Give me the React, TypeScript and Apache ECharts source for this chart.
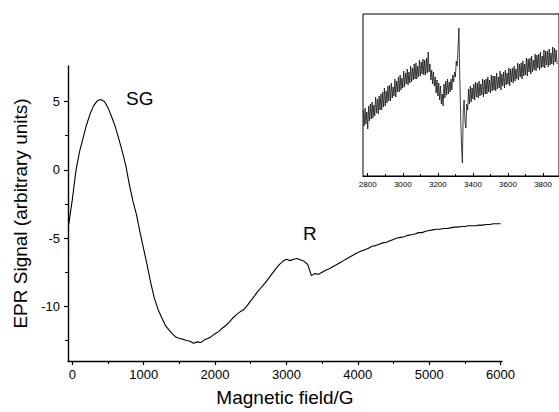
import React, { useEffect, useRef } from "react";
import * as echarts from "echarts";

// Main EPR spectrum: magnetic field (G) sampled every 50 G starting at -50 G
const MAIN_FIELD_START = -50;
const MAIN_FIELD_STEP = 50;
const mainSignal = [
  -4.0, -2.2, -0.1, 1.3, 2.3, 3.3, 4.1, 4.7, 5.05, 5.15,
  5.0, 4.55, 3.9, 3.2, 2.3, 1.35, 0.3, -1.1, -2.3, -3.3,
  -4.6, -5.8, -7.0, -8.3, -9.4, -10.2, -10.8, -11.35, -11.7, -12.0,
  -12.25, -12.35, -12.4, -12.5, -12.55, -12.7, -12.6, -12.65, -12.45, -12.35,
  -12.2, -12.0, -11.85, -11.6, -11.4, -11.15, -10.85, -10.6, -10.4, -10.25,
  -9.95, -9.6, -9.25, -8.9, -8.6, -8.3, -7.95, -7.6, -7.25, -6.95,
  -6.7, -6.55, -6.65, -6.55, -6.5, -6.6, -6.7, -6.95, -7.75, -7.6,
  -7.65, -7.5, -7.35, -7.25, -7.1, -6.95, -6.8, -6.65, -6.5, -6.35,
  -6.2, -6.05, -5.95, -5.85, -5.75, -5.6, -5.55, -5.45, -5.35, -5.3,
  -5.2, -5.1, -5.0, -4.95, -4.9, -4.8, -4.75, -4.7, -4.6, -4.6,
  -4.5, -4.45, -4.4, -4.35, -4.35, -4.3, -4.3, -4.25, -4.2, -4.2,
  -4.15, -4.15, -4.1, -4.1, -4.1, -4.05, -4.05, -4.0, -4.0, -3.95,
  -3.95, -3.95,
];

// Inset: zoom of the R region, sampled every 5 G from 2775 G (arbitrary units)
const INSET_FIELD_START = 2775;
const INSET_FIELD_STEP = 5;
const insetSignal = [
  66, 50, 68, 52, 64, 47, 70, 55, 72, 57,
  74, 58, 71, 60, 79, 63, 77, 62, 80, 66,
  82, 66, 84, 69, 88, 70, 85, 73, 90, 75,
  91, 75, 93, 78, 89, 80, 97, 79, 95, 84,
  99, 84, 101, 86, 98, 88, 105, 89, 103, 92,
  107, 91, 104, 93, 110, 94, 108, 96, 112, 97,
  113, 97, 110, 99, 116, 100, 114, 102, 117, 101,
  116, 101, 118, 103, 124, 104, 112, 96, 106, 92,
  104, 90, 99, 83, 96, 80, 93, 76, 90, 72,
  82, 70, 92, 78, 95, 81, 97, 82, 94, 84,
  97, 86, 101, 94, 104, 99, 115, 110, 128, 148,
  100, 60, 30, 13, 66, 76, 54, 48, 72, 66,
  87, 72, 90, 74, 88, 77, 92, 76, 94, 79,
  93, 78, 95, 80, 92, 81, 97, 79, 96, 82,
  97, 82, 99, 84, 96, 83, 101, 85, 100, 86,
  100, 85, 103, 87, 99, 88, 105, 86, 102, 90,
  104, 88, 106, 91, 103, 92, 108, 90, 107, 94,
  108, 93, 110, 95, 107, 97, 113, 96, 112, 99,
  113, 97, 115, 100, 112, 101, 118, 100, 117, 104,
  118, 102, 120, 104, 116, 106, 122, 105, 121, 108,
  122, 106, 124, 108, 120, 109, 126, 108, 125, 111,
  125, 109, 127, 111, 123, 112, 129, 111, 128, 114,
  126, 112,
];

const xMajorTicks = [0, 1000, 2000, 3000, 4000, 5000, 6000];
const xMinorTicks = [500, 1500, 2500, 3500, 4500, 5500];
const yMajorTicks = [-10, -5, 0, 5];
const yMinorTicks = [-12.5, -7.5, -2.5, 2.5];
const insetLabelTicks = [2800, 3000, 3200, 3400, 3600, 3800];
const insetMinorTicks = [2900, 3100, 3300, 3500, 3700];

const FONT = "Liberation Sans, Arial, Helvetica, sans-serif";
const plain = (v: number) => String(v);

export default function App() {
  const ref = useRef<HTMLDivElement>(null);

  useEffect(() => {
    if (!ref.current) return;
    const chart = echarts.init(ref.current, null, { renderer: "svg" });

    const mainData = mainSignal.map((v, i) => [MAIN_FIELD_START + i * MAIN_FIELD_STEP, v]);
    const insetData = insetSignal.map((v, i) => [INSET_FIELD_START + i * INSET_FIELD_STEP, v]);

    const axisLine = { show: true, onZero: false, lineStyle: { color: "#000", width: 1.4 } };

    const option: any = {
      animation: false,
      backgroundColor: "#fff",
      grid: [
        { left: 68, right: 57, top: 66, bottom: 51, show: false },
        {
          left: 363, right: 0, top: 14, bottom: 236, show: true,
          borderColor: "#000", borderWidth: 1, backgroundColor: "transparent",
        },
      ],
      xAxis: [
        {
          gridIndex: 0, type: "value", position: "bottom", min: -60, max: 6020,
          axisLine,
          axisTick: { show: true, customValues: xMajorTicks, length: 4, inside: false, lineStyle: { color: "#000", width: 1.2 } },
          axisLabel: { customValues: xMajorTicks, formatter: plain, color: "#000", fontSize: 13, fontFamily: FONT, margin: 7 },
          splitLine: { show: false },
          name: "Magnetic field/G", nameLocation: "middle", nameGap: 27,
          nameTextStyle: { color: "#000", fontSize: 19, fontFamily: FONT },
        },
        {
          gridIndex: 0, type: "value", position: "bottom", min: -60, max: 6020,
          axisLine: { show: false, onZero: false },
          axisTick: { show: true, customValues: xMinorTicks, length: 3, lineStyle: { color: "#000", width: 1 } },
          axisLabel: { show: false },
          splitLine: { show: false },
        },
        {
          gridIndex: 1, type: "value", position: "bottom", min: 2773, max: 3891,
          axisLine: { show: true, onZero: false, lineStyle: { color: "#000", width: 1 } },
          axisTick: { show: true, customValues: insetLabelTicks, length: 3, inside: true, lineStyle: { color: "#000", width: 1 } },
          axisLabel: { customValues: insetLabelTicks, formatter: plain, color: "#000", fontSize: 8, fontFamily: FONT, margin: 4 },
          splitLine: { show: false },
        },
        {
          gridIndex: 1, type: "value", position: "bottom", min: 2773, max: 3891,
          axisLine: { show: false, onZero: false },
          axisTick: { show: true, customValues: insetMinorTicks, length: 2, inside: true, lineStyle: { color: "#000", width: 1 } },
          axisLabel: { show: false },
          splitLine: { show: false },
        },
      ],
      yAxis: [
        {
          gridIndex: 0, type: "value", position: "left", min: -14, max: 7.6,
          axisLine,
          axisTick: { show: true, customValues: yMajorTicks, length: 4, lineStyle: { color: "#000", width: 1.2 } },
          axisLabel: { customValues: yMajorTicks, formatter: plain, color: "#000", fontSize: 13, fontFamily: FONT, margin: 8 },
          splitLine: { show: false },
          name: "EPR Signal (arbitrary units)", nameLocation: "middle", nameGap: 31,
          nameTextStyle: { color: "#000", fontSize: 19, fontFamily: FONT },
        },
        {
          gridIndex: 0, type: "value", position: "left", min: -14, max: 7.6,
          axisLine: { show: false, onZero: false },
          axisTick: { show: true, customValues: yMinorTicks, length: 3, lineStyle: { color: "#000", width: 1 } },
          axisLabel: { show: false },
          splitLine: { show: false },
        },
        {
          gridIndex: 1, type: "value", position: "left", min: 0, max: 162,
          axisLine: { show: false, onZero: false },
          axisTick: { show: false },
          axisLabel: { show: false },
          splitLine: { show: false },
        },
      ],
      series: [
        {
          type: "line", xAxisIndex: 0, yAxisIndex: 0, data: mainData,
          showSymbol: false, symbol: "none", silent: true,
          lineStyle: { color: "#000", width: 1.1 },
        },
        {
          type: "line", xAxisIndex: 2, yAxisIndex: 2, data: insetData,
          showSymbol: false, symbol: "none", silent: true, clip: true,
          lineStyle: { color: "#111", width: 0.8 },
        },
      ],
      graphic: [
        { type: "text", left: 126, top: 89, style: { text: "SG", fontSize: 19, fontFamily: FONT, fill: "#000" } },
        { type: "text", left: 303, top: 224, style: { text: "R", fontSize: 19, fontFamily: FONT, fill: "#000" } },
      ],
    };

    chart.setOption(option);
    return () => chart.dispose();
  }, []);

  return (
    <div
      ref={ref}
      style={{ position: "fixed", left: 0, top: 0, width: 559, height: 412, background: "#fff" }}
    />
  );
}
